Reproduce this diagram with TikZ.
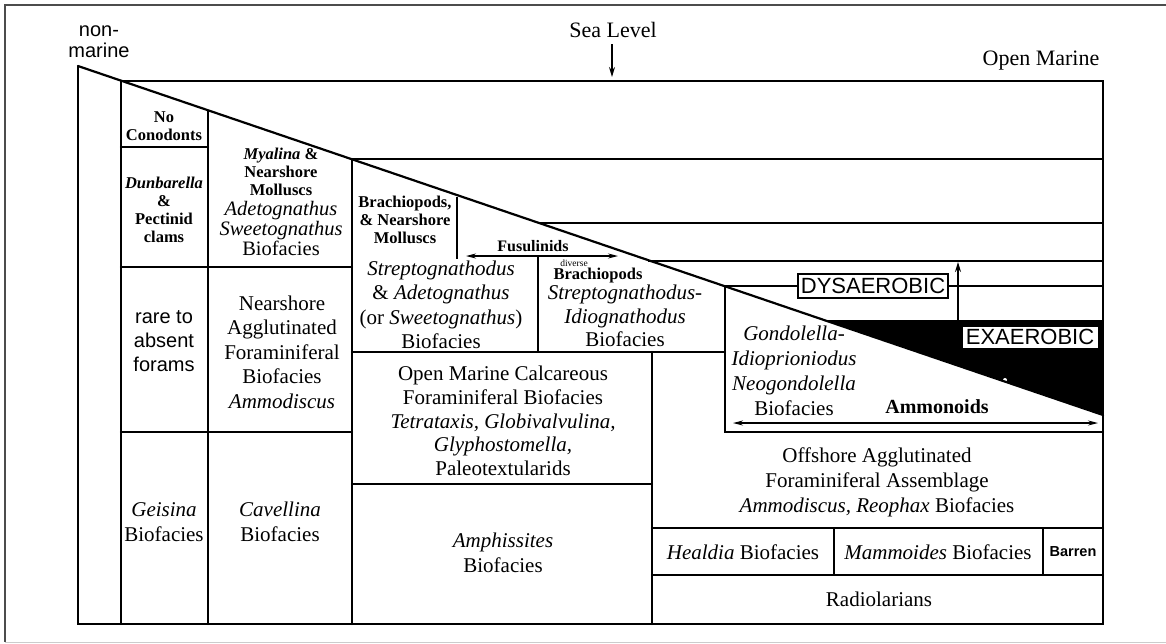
\documentclass[tikz,border=0pt]{standalone}
\usepackage{fontspec}
\setmainfont{Liberation Serif}
\setsansfont{Liberation Sans}
\usetikzlibrary{arrows.meta}
\begin{document}
\begin{tikzpicture}[x=1pt,y=-1pt,
  big/.style={font=\fontsize{21}{24.5}\selectfont, align=center, inner sep=0pt},
  mid/.style={font=\fontsize{20.5}{20}\selectfont, align=center, inner sep=0pt},
  small/.style={font=\fontsize{16.5}{18}\selectfont\bfseries, align=center, inner sep=0pt},
  sfbig/.style={font=\sffamily\fontsize{20}{24}\selectfont, align=center, inner sep=0pt},
  heavy/.style={line width=2.2pt, line cap=round},
  light/.style={line width=1.4pt},
  tip/.style={-{Stealth[length=10pt,width=6pt]}, line width=1.4pt},
  dtip/.style={{Stealth[length=10pt,width=5pt]}-{Stealth[length=10pt,width=5pt]}, line width=1.3pt},
]
\useasboundingbox (0,0) rectangle (1166,643);
% outer frame
\draw[line width=1.4pt, draw=black!70] (1166,5) -- (5,5) -- (5,642);
\draw[line width=1pt, draw=black!20] (5,642) -- (1166,642);

% key points
\coordinate (A) at (78,66);
\coordinate (Z) at (1103,415);
\coordinate (BL) at (78,624);
\coordinate (BR) at (1103,624);
\coordinate (TL) at (121,81);
\coordinate (TR) at (1103,81);

% exaerobic black wedge
\fill (824,320) -- (1103,320) -- (Z) -- cycle;
\fill[white] (1005,380) circle (2);

% frame lines
\draw[heavy] (A) -- (BL) -- (BR) -- (TR) -- (TL) -- (121,624);
\draw[heavy] (A) -- (Z);
\draw[heavy] (208,111) -- (208,624);
\draw[heavy] (352,159) -- (352,624);
\draw[heavy] (121,147) -- (208,147);
\draw[heavy] (121,267) -- (352,267);
\draw[heavy] (121,432) -- (352,432);
\draw[light] (457,197) -- (457,259);
\draw[light] (538,256) -- (538,352);
\draw[heavy] (352,352) -- (725,352);
\draw[heavy] (652,352) -- (652,624);
\draw[heavy] (352,484) -- (652,484);
\draw[light] (352,159) -- (1103,159);
\draw[light] (539,223) -- (1103,223);
\draw[light] (648,261) -- (1103,261);
\draw[heavy] (725,287) -- (725,432) -- (1103,432);
\draw[heavy] (652,528) -- (1103,528);
\draw[heavy] (652,575) -- (1103,575);
\draw[light] (834,528) -- (834,575);
\draw[light] (1043,528) -- (1043,575);

% boxed labels
\node[draw, fill=white, line width=1.3pt, inner sep=0pt, minimum width=150pt, minimum height=24pt,
      text height=15.5pt, text depth=0pt, font=\sffamily\fontsize{22}{22}\selectfont] (dys) at (873,286) {DYSAEROBIC};
\draw[light] (725,286) -- (dys.west);
\draw[light] (dys.east) -- (1103,286);
\node[fill=white, inner sep=0pt, minimum width=135pt, minimum height=21pt,
      text height=15.5pt, text depth=0pt, font=\sffamily\fontsize{22}{22}\selectfont] (exa) at (1030,337) {EXAEROBIC};

% arrows
\coordinate (dysA) at (958,320);
\coordinate (dysB) at (958,262);
\draw[tip] (dysA) -- (dysB);
\coordinate (fuL) at (466,256);
\coordinate (fuR) at (618,256);
\draw[dtip] (fuL) -- (fuR);
\coordinate (amL) at (733,423);
\coordinate (amR) at (1098,423);
\draw[dtip] (amL) -- (amR);

% top labels
\node[sfbig, font=\sffamily\fontsize{20}{21}\selectfont] (nonmarine) at (99,42) {non-\\marine};
\node[font=\fontsize{22}{22}\selectfont, inner sep=0pt] (sea) at (613,30) {Sea Level};
\coordinate (seaA) at (612,44);
\coordinate (seaB) at (612,77);
\draw[tip] (seaA) -- (seaB);
\node[font=\fontsize{22}{22}\selectfont, inner sep=0pt] (open) at (1041,61) {Open Marine};

% column 1
\node[small] (nocon) at (164,126) {No\\Conodonts};
\node[small] (dunb) at (164,210) {\textit{Dunbarella}\\\&\\Pectinid\\clams};
\node[sfbig] (rare) at (164,341) {rare to\\absent\\forams};
\node[big] (geis) at (164,522) {\textit{Geisina}\\Biofacies};

% column 2
\node[small] (myal) at (281,172) {\textit{Myalina} \&\\Nearshore\\Molluscs};
\node[mid] (adet) at (281,228) {\textit{Adetognathus}\\\textit{Sweetognathus}\\Biofacies};
\node[big] (nagg) at (282,352) {Nearshore\\Agglutinated\\Foraminiferal\\Biofacies\\\textit{Ammodiscus}};
\node[big] (cav) at (280,522) {\textit{Cavellina}\\Biofacies};

% column 3
\node[small] (brach) at (405,220) {Brachiopods,\\\& Nearshore\\Molluscs};
\node[small, font=\fontsize{16}{18}\selectfont\bfseries] (fus) at (533,246) {Fusulinids};
\node[big] (strep) at (441,305) {\textit{Streptognathodus}\\\& \textit{Adetognathus}\\(or \textit{Sweetognathus})\\Biofacies};
\node[inner sep=0pt, font=\fontsize{9.5}{10}\selectfont] (div) at (574,263) {diverse};
\node[small] (dbrach) at (598,276) {Brachiopods};
\node[big, font=\fontsize{21}{23.5}\selectfont] (strid) at (625,316) {\textit{Streptognathodus-}\\\textit{Idiognathodus}\\Biofacies};
\node[big, font=\fontsize{21}{23.75}\selectfont] (omc) at (503,421) {Open Marine Calcareous\\Foraminiferal Biofacies\\\textit{Tetrataxis, Globivalvulina,}\\\textit{Glyphostomella,}\\Paleotextularids};
\node[big] (amph) at (503,553) {\textit{Amphissites}\\Biofacies};

% right part
\node[big, font=\fontsize{21}{25}\selectfont] (gond) at (794,371) {\textit{Gondolella-}\\\textit{Idioprioniodus}\\\textit{Neogondolella}\\Biofacies};
\node[inner sep=0pt, font=\fontsize{20}{20}\selectfont\bfseries] (ammo) at (937,407) {Ammonoids};
\node[big, font=\fontsize{21}{25}\selectfont] (offs) at (877,482) {Offshore Agglutinated\\Foraminiferal Assemblage\\\textit{Ammodiscus, Reophax} Biofacies};
\node[big] (heal) at (743,552) {\textit{Healdia} Biofacies};
\node[big] (mamm) at (938,552) {\textit{Mammoides} Biofacies};
\node[inner sep=0pt, font=\sffamily\fontsize{14.5}{15}\selectfont\bfseries] (barren) at (1073,552) {Barren};
\node[big] (radio) at (879,599) {Radiolarians};
\end{tikzpicture}
\end{document}
